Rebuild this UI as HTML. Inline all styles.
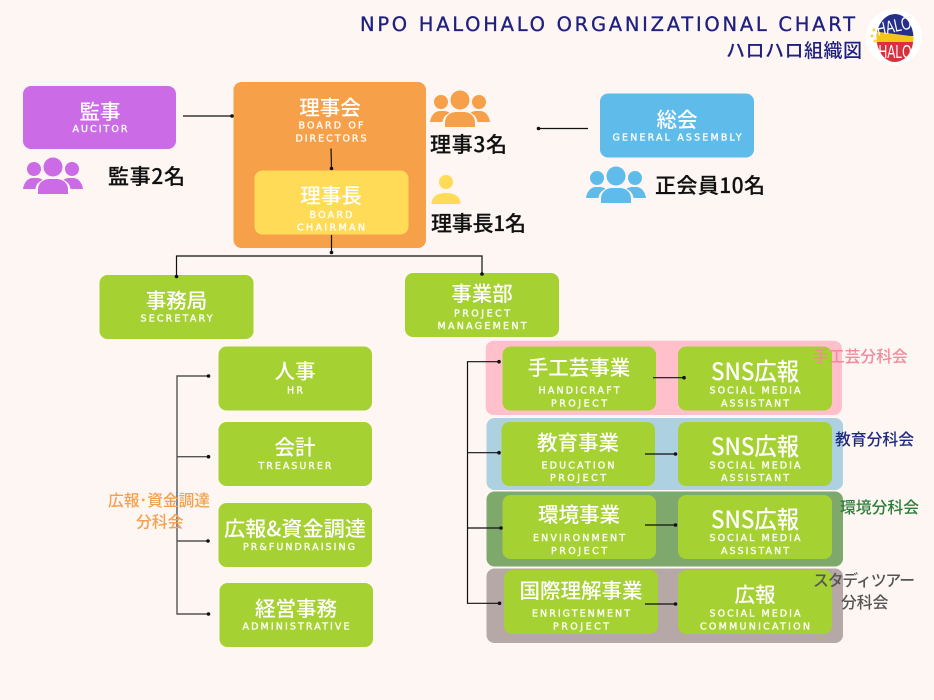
<!DOCTYPE html>
<html lang="ja">
<head>
<meta charset="utf-8">
<title>NPO HALOHALO Organizational Chart</title>
<style>
html,body{margin:0;padding:0;background:#fdf6f3;}
svg{display:block;}
text{font-family:"Noto Sans CJK JP","Liberation Sans",sans-serif;}
.j{fill:#fff;font-weight:500;font-size:20.5px;text-anchor:middle;}
.s{fill:#fff;font-size:24px;font-weight:500;text-anchor:middle;}
.e{fill:#fff;fill-opacity:.95;stroke:#fff;stroke-opacity:.8;stroke-width:.45;font-family:"DejaVu Sans",sans-serif;font-size:9.5px;text-anchor:middle;}
.k{fill:#111;stroke:#111;stroke-width:.2;font-size:21px;font-weight:500;}
.b{font-size:15.8px;font-weight:500;}
.c{stroke:#111;stroke-width:1.2;fill:none;}
.g{stroke:#555;stroke-width:1.4;fill:none;}
</style>
</head>
<body>
<svg width="934" height="700" viewBox="0 0 934 700" xmlns="http://www.w3.org/2000/svg">
<defs>
<g id="people">
<circle cx="11" cy="11" r="7"/><circle cx="49" cy="11" r="7"/><circle cx="30" cy="9" r="9.5"/>
<path d="M0 31C1 24 5 20 10 20H14C16 20 18 20.500 19.500 22C15 24 13 27 12.500 31Z"/>
<path d="M60 31C59 24 55 20 50 20H46C44 20 42 20.500 40.500 22C45 24 47 27 47.500 31Z"/>
<path d="M15 36V32C15 25 20 21 27 21H33C40 21 45 25 45 32V36Z"/>
</g>
</defs>
<rect width="934" height="700" fill="#fdf6f3"/>

<!-- committee bands -->
<rect x="485.700" y="340.700" width="356.300" height="74.300" rx="8" fill="#ffc0cb"/>
<rect x="486.500" y="418" width="356.500" height="72" rx="8" fill="#add1e0"/>
<rect x="486.500" y="491.500" width="356.500" height="75" rx="8" fill="#7fa86c"/>
<rect x="486.500" y="568.500" width="356.500" height="74.500" rx="8" fill="#b5a8a6"/>

<!-- top boxes -->
<rect x="23" y="86" width="153" height="63" rx="8" fill="#cb6ce6"/>
<rect x="233.500" y="82" width="192.500" height="166" rx="8" fill="#f6a04a"/>
<rect x="254.500" y="170.500" width="154" height="64" rx="8" fill="#ffdb57"/>
<rect x="600" y="93.500" width="154" height="64" rx="8" fill="#5fbcea"/>

<!-- green boxes -->
<g fill="#a6d132">
<rect x="99.500" y="275" width="154" height="64" rx="8"/>
<rect x="405" y="273" width="154" height="64" rx="8"/>
<rect x="218.500" y="346.500" width="153.500" height="64" rx="8"/>
<rect x="218.500" y="422" width="153.500" height="64" rx="8"/>
<rect x="218.500" y="503" width="153.500" height="64" rx="8"/>
<rect x="219.500" y="583" width="153.500" height="64" rx="8"/>
<rect x="502.500" y="346.500" width="153.500" height="64" rx="8"/>
<rect x="678" y="346.500" width="154" height="64" rx="8"/>
<rect x="501.500" y="422" width="153.500" height="64" rx="8"/>
<rect x="678" y="422" width="154" height="64" rx="8"/>
<rect x="502.500" y="495" width="153.500" height="64" rx="8"/>
<rect x="678" y="495" width="154" height="64" rx="8"/>
<rect x="504" y="570" width="154" height="64" rx="8"/>
<rect x="678" y="570" width="154" height="64" rx="8"/>
</g>

<!-- connectors -->
<path class="c" d="M183 116H232M331 148.500L331.500 168M331.500 235V252M176.500 276V256H482V274M588 128.500H538.500"/>
<path class="g" d="M208.500 376H177V614H208.500M177 456.700H208.500M177 541H208"/>
<path class="c" d="M499 361.700H467.500V603.300H499.500M467.500 452.700H499M467.500 528H501M653 377.700H684M645 454H675.500M645 525H675.500M645 604H675.500"/>
<g fill="#111">
<circle cx="232" cy="116" r="1.800"/><circle cx="331.500" cy="168.500" r="1.800"/><circle cx="331.500" cy="252.500" r="1.800"/>
<circle cx="176.500" cy="276.500" r="1.800"/><circle cx="482" cy="274" r="1.800"/><circle cx="538.500" cy="128.500" r="1.800"/>
<circle cx="208.500" cy="376" r="1.800"/><circle cx="208.500" cy="456.700" r="1.800"/><circle cx="208" cy="541" r="1.800"/><circle cx="208.500" cy="614" r="1.800"/>
<circle cx="499" cy="361.700" r="1.800"/><circle cx="499" cy="452.700" r="1.800"/><circle cx="501" cy="528" r="1.800"/><circle cx="499.500" cy="603.300" r="1.800"/>
<circle cx="684" cy="377.700" r="1.800"/><circle cx="675.500" cy="454" r="1.800"/><circle cx="675.500" cy="525" r="1.800"/><circle cx="675.500" cy="604" r="1.800"/>
</g>

<!-- title -->
<text x="360" y="31" textLength="495" lengthAdjust="spacing" style="font-family:'DejaVu Sans',sans-serif;font-size:19.500px;fill:#1f2080;stroke:#1f2080;stroke-width:.3">NPO HALOHALO ORGANIZATIONAL CHART</text>
<text x="726" y="57" textLength="136" lengthAdjust="spacing" style="font-size:19px;fill:#1f2080;font-weight:500">ハロハロ組織図</text>

<!-- logo -->
<circle cx="894" cy="37" r="28" fill="#fff"/>
<clipPath id="egg"><ellipse cx="895" cy="38" rx="18.500" ry="24"/></clipPath>
<g clip-path="url(#egg)">
<rect x="870" y="12" width="50" height="24" fill="#26308a"/>
<path d="M872 31L918 37V42H872Z" fill="#f5c518"/>
<rect x="870" y="42" width="50" height="22" fill="#d8303c"/>
<text x="895" y="32" transform="rotate(-12 895 32)" text-anchor="middle" textLength="35" lengthAdjust="spacingAndGlyphs" style="font-family:'Liberation Sans',sans-serif;font-size:18px;fill:#fff">HALO</text>
<text x="895" y="58" text-anchor="middle" textLength="33" lengthAdjust="spacingAndGlyphs" style="font-family:'Liberation Sans',sans-serif;font-size:18px;fill:#fff">HALO</text>
</g>
<g fill="#f5d24a"><circle cx="874" cy="30" r="1.500"/><circle cx="872" cy="36" r="1.500"/><circle cx="875" cy="41" r="1.500"/></g>

<!-- top box labels -->
<text class="j" x="100" y="119">監事</text>
<text class="e" x="100" y="132" textLength="55" lengthAdjust="spacing">AUCITOR</text>
<text class="j" x="330" y="115">理事会</text>
<text class="e" x="331" y="128.700" textLength="65" lengthAdjust="spacing">BOARD OF</text>
<text class="e" x="331" y="141.500" textLength="71" lengthAdjust="spacing">DIRECTORS</text>
<text class="j" x="331" y="203">理事長</text>
<text class="e" x="331" y="218" textLength="43" lengthAdjust="spacing">BOARD</text>
<text class="e" x="331" y="230.700" textLength="68" lengthAdjust="spacing">CHAIRMAN</text>
<text class="j" x="677" y="127">総会</text>
<text class="e" x="677" y="140.700" textLength="129" lengthAdjust="spacing">GENERAL ASSEMBLY</text>

<!-- icons + counts -->
<use href="#people" x="23" y="158" fill="#cb6ce6"/>
<use href="#people" x="430" y="91" fill="#f6a04a"/>
<use href="#people" x="586" y="167" fill="#5fbcea"/>
<g fill="#ffdb57"><circle cx="446" cy="182" r="7"/><path d="M431.500 204C431.500 196 438 193 446 193C454 193 460.500 196 460.500 204Z"/></g>
<text class="k" x="108" y="184" textLength="77" lengthAdjust="spacing">監事2名</text>
<text class="k" x="430" y="152" textLength="77" lengthAdjust="spacing">理事3名</text>
<text class="k" x="431" y="231" textLength="95" lengthAdjust="spacing">理事長1名</text>
<text class="k" x="655" y="193" textLength="110" lengthAdjust="spacing">正会員10名</text>

<!-- left column -->
<text class="j" x="176.500" y="308">事務局</text>
<text class="e" x="176.500" y="321.700" textLength="72" lengthAdjust="spacing">SECRETARY</text>
<text class="j" x="482" y="301">事業部</text>
<text class="e" x="482" y="316.500" textLength="56" lengthAdjust="spacing">PROJECT</text>
<text class="e" x="482" y="329" textLength="89" lengthAdjust="spacing">MANAGEMENT</text>
<text class="j" x="295" y="378.500">人事</text>
<text class="e" x="295" y="393.700" textLength="16" lengthAdjust="spacing">HR</text>
<text class="j" x="295" y="454.500">会計</text>
<text class="e" x="295" y="469" textLength="73" lengthAdjust="spacing">TREASURER</text>
<text class="j" x="295" y="536" textLength="142" lengthAdjust="spacingAndGlyphs">広報&amp;資金調達</text>
<text class="e" x="299" y="550" textLength="112" lengthAdjust="spacing">PR&amp;FUNDRAISING</text>
<text class="j" x="296" y="616">経営事務</text>
<text class="e" x="296" y="629.700" textLength="107" lengthAdjust="spacing">ADMINISTRATIVE</text>

<!-- right column -->
<text class="j" x="579" y="375">手工芸事業</text>
<text class="e" x="579" y="393.700" textLength="81" lengthAdjust="spacing">HANDICRAFT</text>
<text class="e" x="579" y="406.300" textLength="56" lengthAdjust="spacing">PROJECT</text>
<text class="s" x="755" y="380" textLength="88" lengthAdjust="spacingAndGlyphs">SNS広報</text>
<text class="e" x="755" y="393.700" textLength="91" lengthAdjust="spacing">SOCIAL MEDIA</text>
<text class="e" x="755" y="406.300" textLength="68" lengthAdjust="spacing">ASSISTANT</text>

<text class="j" x="578" y="450">教育事業</text>
<text class="e" x="578" y="468.500" textLength="73" lengthAdjust="spacing">EDUCATION</text>
<text class="e" x="578" y="481" textLength="56" lengthAdjust="spacing">PROJECT</text>
<text class="s" x="755" y="455" textLength="88" lengthAdjust="spacingAndGlyphs">SNS広報</text>
<text class="e" x="755" y="468.500" textLength="91" lengthAdjust="spacing">SOCIAL MEDIA</text>
<text class="e" x="755" y="481" textLength="68" lengthAdjust="spacing">ASSISTANT</text>

<text class="j" x="579" y="522">環境事業</text>
<text class="e" x="579" y="541" textLength="92" lengthAdjust="spacing">ENVIRONMENT</text>
<text class="e" x="579" y="554" textLength="56" lengthAdjust="spacing">PROJECT</text>
<text class="s" x="755" y="528" textLength="88" lengthAdjust="spacingAndGlyphs">SNS広報</text>
<text class="e" x="755" y="541" textLength="91" lengthAdjust="spacing">SOCIAL MEDIA</text>
<text class="e" x="755" y="554" textLength="68" lengthAdjust="spacing">ASSISTANT</text>

<text class="j" x="581" y="598">国際理解事業</text>
<text class="e" x="581" y="616.700" textLength="98" lengthAdjust="spacing">ENRIGTENMENT</text>
<text class="e" x="581" y="629.500" textLength="56" lengthAdjust="spacing">PROJECT</text>
<text class="j" x="755" y="602">広報</text>
<text class="e" x="755" y="616.700" textLength="91" lengthAdjust="spacing">SOCIAL MEDIA</text>
<text class="e" x="755" y="629.500" textLength="110" lengthAdjust="spacing">COMMUNICATION</text>

<!-- committee labels -->
<text class="b" x="813" y="362" style="fill:#f28a9c">手工芸分科会</text>
<text class="b" x="835" y="445" style="fill:#1f2a80">教育分科会</text>
<text class="b" x="840" y="513" style="fill:#2e7d3a">環境分科会</text>
<text class="b" x="813" y="586" textLength="102" lengthAdjust="spacing" style="fill:#555">スタディツアー</text>
<text class="b" x="841" y="608" style="fill:#555">分科会</text>
<text class="b" x="108" y="506" textLength="102" lengthAdjust="spacingAndGlyphs" style="fill:#f4a04e">広報･資金調達</text>
<text class="b" x="136" y="527.500" style="fill:#f4a04e">分科会</text>
</svg>
</body>
</html>
